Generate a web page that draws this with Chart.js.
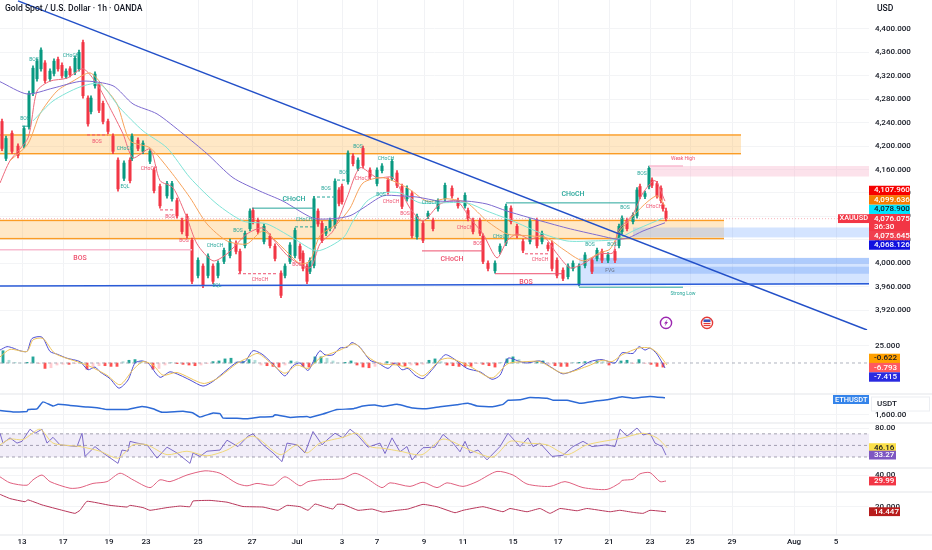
<!DOCTYPE html>
<html>
<head>
<meta charset="utf-8">
<title>Gold Spot / U.S. Dollar</title>
<script src="https://cdn.jsdelivr.net/npm/chart.js@4/dist/chart.umd.min.js"></script>
<style>
  html, body { margin: 0; padding: 0; background: #fff; }
  canvas { display: block; }
</style>
</head>
<body>
<canvas id="chart" width="932" height="550"></canvas>
<script>
// Time axis: x is one unit per session slot, ticks are not evenly spaced
const timeTickBars = [22, 63, 109, 146, 198, 252, 297, 342, 377, 424, 463, 513, 558, 609, 650, 690, 732, 794, 836];
const timeTickLabels = ['13', '17', '19', '23', '25', '27', 'Jul', '3', '7', '9', '11', '15', '17', '21', '23', '25', '29', 'Aug', '5'];
const priceTicks = [4400, 4360, 4320, 4280, 4240, 4200, 4160, 4120, 4080, 4040, 4000, 3960, 3920];

// Candles
const candleBars = [2, 6, 12, 18, 24, 29, 33, 37, 41, 45,
  50, 54, 58, 62, 66, 70, 75, 79, 83, 88,
  91, 95, 99, 103, 108, 113, 118, 124, 130, 132,
  138, 143, 150, 154, 160, 167, 172, 177, 182, 187,
  192, 198, 203, 208, 213, 218, 224, 230, 236, 240,
  245, 250, 253, 258, 264, 270, 275, 281, 285, 290,
  295, 300, 303, 307, 310, 314, 318, 322, 326, 330,
  335, 339, 342, 348, 353, 358, 363, 370, 377, 382,
  388, 392, 397, 402, 407, 412, 417, 423, 428, 433,
  438, 445, 452, 458, 465, 468, 473, 480, 483, 488,
  495, 500, 506, 511, 517, 523, 530, 537, 542, 548,
  552, 557, 563, 568, 573, 579, 585, 592, 597, 602,
  608, 615, 619, 622, 627, 633, 637, 640, 645, 649,
  652, 657, 661, 663, 666];
const candleHighs = [4246, 4217, 4226, 4204, 4234, 4294, 4337, 4349, 4368, 4346,
  4332, 4349, 4352, 4342, 4332, 4336, 4354, 4364, 4381, 4286,
  4286, 4327, 4308, 4277, 4246, 4221, 4180, 4175, 4180, 4221,
  4214, 4209, 4195, 4163, 4135, 4140, 4140, 4111, 4077, 4084,
  4043, 4009, 3999, 4016, 3999, 4004, 4026, 4041, 4038, 4024,
  4055, 4093, 4094, 4077, 4067, 4050, 4033, 3987, 3999, 4035,
  4060, 4033, 4021, 3999, 4009, 4114, 4093, 4072, 4063, 4077,
  4144, 4129, 4135, 4192, 4187, 4180, 4200, 4163, 4163, 4170,
  4146, 4178, 4158, 4135, 4132, 4123, 4084, 4072, 4089, 4077,
  4110, 4137, 4132, 4111, 4120, 4094, 4077, 4077, 4050, 4004,
  4004, 4033, 4101, 4098, 4067, 4041, 4076, 4077, 4055, 4035,
  4038, 4009, 3992, 3999, 4004, 3999, 4018, 4009, 4026, 4024,
  4018, 4024, 4067, 4081, 4077, 4086, 4129, 4135, 4123, 4166,
  4146, 4140, 4132, 4103, 4094];
const candleLows = [4192, 4175, 4187, 4180, 4197, 4229, 4286, 4311, 4328, 4308,
  4311, 4320, 4328, 4316, 4315, 4318, 4322, 4328, 4282, 4234,
  4255, 4299, 4257, 4238, 4221, 4187, 4123, 4141, 4137, 4175,
  4192, 4187, 4170, 4120, 4094, 4111, 4106, 4077, 4050, 4043,
  3965, 3975, 3958, 3975, 3965, 3975, 3999, 4009, 4016, 3983,
  4026, 4055, 4067, 4050, 4033, 4026, 4004, 3941, 3975, 3999,
  4009, 4004, 3987, 3965, 3982, 3992, 4063, 4035, 4047, 4055,
  4060, 4098, 4101, 4135, 4166, 4158, 4163, 4144, 4132, 4154,
  4118, 4141, 4129, 4093, 4106, 4043, 4041, 4035, 4076, 4055,
  4089, 4106, 4111, 4094, 4094, 4072, 4050, 4047, 3999, 3987,
  3983, 4016, 4030, 4067, 4043, 4018, 4033, 4026, 4033, 4021,
  3987, 3975, 3970, 3973, 3987, 3961, 3992, 3982, 4004, 4001,
  4001, 4001, 4026, 4050, 4055, 4067, 4077, 4110, 4110, 4127,
  4129, 4111, 4103, 4089, 4072];
const candleOpens = [4242, 4179, 4222, 4200, 4201, 4233, 4290, 4315, 4332, 4342,
  4315, 4324, 4348, 4338, 4319, 4332, 4326, 4332, 4377, 4282,
  4259, 4303, 4304, 4273, 4242, 4217, 4176, 4145, 4176, 4179,
  4210, 4191, 4174, 4159, 4131, 4115, 4110, 4107, 4073, 4080,
  4039, 3979, 3995, 3979, 3995, 3979, 4003, 4013, 4034, 4020,
  4030, 4059, 4090, 4073, 4037, 4046, 4029, 3983, 3979, 4003,
  4013, 4029, 4017, 3995, 3986, 3996, 4089, 4068, 4051, 4059,
  4064, 4125, 4131, 4139, 4183, 4162, 4196, 4159, 4136, 4158,
  4142, 4145, 4154, 4131, 4110, 4119, 4045, 4068, 4080, 4073,
  4093, 4110, 4128, 4107, 4098, 4090, 4073, 4073, 4046, 4000,
  3987, 4020, 4034, 4094, 4063, 4037, 4037, 4073, 4037, 4031,
  4034, 4005, 3988, 3977, 3991, 3965, 3996, 4005, 4008, 4020,
  4005, 4020, 4030, 4054, 4073, 4071, 4081, 4131, 4114, 4131,
  4142, 4136, 4128, 4099, 4089];
const candleCloses = [4196, 4213, 4191, 4184, 4230, 4290, 4333, 4345, 4364, 4312,
  4328, 4345, 4332, 4320, 4328, 4322, 4350, 4360, 4286, 4238,
  4282, 4323, 4261, 4242, 4225, 4191, 4127, 4171, 4141, 4217,
  4196, 4205, 4191, 4124, 4098, 4136, 4136, 4081, 4054, 4047,
  3969, 4005, 3962, 4012, 3969, 4000, 4022, 4037, 4020, 3987,
  4051, 4089, 4071, 4054, 4063, 4030, 4008, 3945, 3995, 4031,
  4056, 4008, 3991, 3969, 4005, 4110, 4067, 4039, 4059, 4073,
  4140, 4102, 4105, 4188, 4170, 4176, 4167, 4148, 4159, 4166,
  4122, 4174, 4133, 4097, 4128, 4047, 4080, 4039, 4085, 4059,
  4106, 4133, 4115, 4098, 4116, 4076, 4054, 4051, 4003, 3991,
  4000, 4029, 4097, 4071, 4047, 4022, 4072, 4030, 4051, 4025,
  3991, 3979, 3974, 3995, 4000, 3995, 4014, 3986, 4022, 4005,
  4014, 4005, 4063, 4077, 4059, 4082, 4125, 4114, 4119, 4162,
  4133, 4115, 4107, 4093, 4076];

// Moving averages
const emaRedBars = [0, 10, 28, 37, 50, 67, 83, 97, 110, 123, 133, 150, 160, 173, 187, 197, 213, 227, 247, 263, 277, 290, 310, 320, 333, 347, 360, 377, 393, 410, 423, 440, 457, 470, 483, 497, 507, 517, 530, 543, 557, 570, 583, 600, 613, 618, 633, 643, 655, 665];
const emaRedPrices = [4137, 4175, 4214, 4294, 4311, 4316, 4332, 4306, 4265, 4221, 4180, 4195, 4141, 4129, 4077, 4033, 4004, 4016, 4050, 4060, 4033, 4009, 3992, 4033, 4055, 4112, 4163, 4146, 4146, 4094, 4072, 4101, 4106, 4077, 4050, 4009, 4038, 4050, 4041, 4047, 4016, 3992, 3999, 4016, 4018, 4055, 4084, 4120, 4141, 4106];
const emaOrangeBars = [10, 28, 40, 57, 73, 90, 103, 117, 130, 150, 170, 190, 207, 227, 247, 263, 283, 300, 310, 320, 337, 350, 363, 383, 407, 427, 447, 467, 487, 507, 527, 547, 563, 583, 600, 610, 620, 643, 657, 665];
const emaOrangePrices = [4175, 4204, 4255, 4294, 4311, 4325, 4303, 4272, 4209, 4197, 4158, 4112, 4067, 4038, 4033, 4055, 4026, 3999, 4004, 4047, 4067, 4094, 4137, 4146, 4129, 4106, 4110, 4103, 4072, 4050, 4047, 4043, 4024, 4004, 4018, 4024, 4055, 4098, 4115, 4098];
const emaTealBars = [33, 53, 80, 100, 120, 143, 167, 190, 217, 243, 267, 293, 317, 343, 353, 367, 383, 400, 420, 440, 467, 487, 513, 540, 567, 593, 617, 633, 663];
const emaTealPrices = [4243, 4277, 4301, 4306, 4265, 4226, 4197, 4146, 4101, 4072, 4067, 4043, 4021, 4043, 4072, 4106, 4120, 4120, 4103, 4103, 4103, 4089, 4072, 4052, 4038, 4038, 4041, 4055, 4077];
const emaPurpleBars = [0, 27, 53, 83, 113, 133, 157, 183, 207, 233, 260, 283, 313, 333, 350, 363, 383, 400, 417, 440, 467, 487, 507, 533, 567, 600, 617, 628, 643, 665];
const emaPurplePrices = [4310, 4289, 4299, 4311, 4303, 4272, 4255, 4221, 4187, 4146, 4123, 4106, 4077, 4076, 4081, 4094, 4115, 4115, 4113, 4106, 4106, 4101, 4089, 4076, 4060, 4047, 4041, 4043, 4055, 4069];

// Drawn levels, each [first bar, last bar, price]
const tealLevels = [[252, 315, 4094], [506, 637, 4103], [579, 683, 3959], [22, 28, 4234]];
const tealDashLevels = [[295, 315, 4062], [317, 335, 4113], [337, 347, 4142]];
const redLevels = [[422, 483, 4021], [495, 563, 3982]];
const redDashLevels = [[238, 278, 3982], [160, 175, 4091], [87, 108, 4219], [525, 548, 4016]];
const pinkLevels = [[0, 192, 4023], [649, 683, 4166]];
const downTrendBars = [18, 867];
const downTrendPrices = [4448, 3886];
const floorBars = [0, 869];
const floorPrices = [3961, 3965];
const lastPrice = 4076.075;

// Zones, each [first bar, last bar, top price, bottom price]
const orangeZones = [[0, 741, 4219, 4187], [0, 724, 4073, 4042]];
const pinkZones = [[650, 869, 4166, 4148]];
const paleBlueZones = [[633, 869, 4061, 4044], [579, 869, 4009, 3963]];
const blueZones = [[590, 869, 4009, 3999], [590, 869, 3994, 3982]];

// Chart notes
const smallNoteTexts = ['BOS', 'BOS', 'CHoCH', 'BOS', 'EQL', 'CHoCH', 'CHoCH', 'BOS', 'BOS', 'CHoCH', 'BOS', 'CHoCH', 'BOS', 'CHoCH', 'EQL',
  'BOS', 'BOS', 'CHoCH', 'CHoCH', 'BOS', 'BOS', 'CHoCH', 'BOS', 'CHoCH', 'CHoCH', 'BOS', 'CHoCH', 'CHoCH', 'BOS', 'BOS', 'FVG', 'BOS', 'BOS', 'CHoCH', 'Weak High', 'Strong Low'];
const smallNoteBars = [25, 34, 71, 97, 125, 125, 149, 170, 184, 215, 238, 260, 297, 304, 217,
  326, 344, 363, 386, 358, 381, 391, 405, 430, 465, 478, 501, 540, 590, 612, 610, 642, 625, 654, 683, 683];
const smallNotePrices = [4246, 4347, 4354, 4207, 4130, 4195, 4161, 4079, 4038, 4030, 4055, 3971, 3997, 4074, 3961,
  4127, 4154, 4144, 4178, 4199, 4117, 4105, 4084, 4103, 4060, 4033, 4045, 4006, 4031, 4031, 3987, 4152, 4094, 4096, 4178, 3947];
const smallNoteIsRed = [0, 0, 0, 1, 0, 0, 1, 1, 1, 0, 0, 1, 1, 0, 0,
  0, 0, 1, 0, 0, 0, 1, 1, 0, 1, 1, 0, 1, 0, 0, 2, 0, 0, 1, 1, 0];
const bigNoteTexts = ['CHoCH', 'CHoCH', 'BOS', 'CHoCH', 'BOS'];
const bigNoteBars = [294, 573, 80, 452, 526];
const bigNotePrices = [4110, 4118, 4009, 4007, 3968];
const bigNoteIsRed = [0, 0, 1, 1, 1];
const eventBars = [666, 707];
const eventPrice = 3898;

// MACD
const macdBars = [0, 7, 13, 20, 27, 32, 42, 50, 57, 67, 80, 88, 95, 100, 110, 119, 128, 135, 142, 148, 160, 170, 180, 190, 203, 213, 227, 237, 245, 253, 263, 277, 285, 293, 300, 308, 315, 320,
  325, 333, 340, 347, 352, 360, 370, 378, 388, 395, 402, 408, 415, 423, 432, 445, 453, 467, 480, 492, 500, 508, 520, 527, 540, 553, 563, 577, 590, 602, 615, 622, 633, 639, 645, 650, 657, 665];
const macdValues = [19, 24, 22, 18, 17, 36, 38, 17, 13, 7, 2, -10, -6, -13, -23, -37, -25, 0, 3, 0, -21, -13, -18, -25, -34, -27, -10, 1, 2, 18, 12, -8, -19, -4, 0, -11, 7, 18,
  12, 12, 22, 23, 30, 23, 4, 0, -8, 0, -10, -8, -18, -23, -10, 12, 7, -8, -13, -24, -18, 7, 2, 0, 3, -8, -16, -9, 2, 5, 0, 15, 14, 24, 19, 22, 13, -7.4];
const macdSignalBars = [0, 10, 27, 33, 43, 55, 80, 90, 107, 120, 133, 143, 153, 163, 177, 203, 217, 237, 247, 258, 273, 285, 297, 308, 320,
  340, 355, 368, 380, 397, 410, 423, 440, 450, 470, 492, 508, 527, 540, 563, 587, 602, 612, 622, 639, 650, 658, 667];
const macdSignalValues = [9, 20, 17, 34, 36, 14, 0.5, -5, -18, -32, -10, 2, -3, -18, -14, -30, -23, -0.5, 7, 14, -3, -15, -3, -8, 7,
  19, 28, 9, -1, -3, -8, -19, 4, 7, -5, -22, -1, 2, 2, -15, -5, 4, 2, 12, 22, 22, 14, -3];
const macdHistValues = [18, 4, 1, 0, 1, 9, -1, -8, -7, -3, -2, -2, -1, 1, -9, -6, -4, -4, -5, -5, 2, 4, 5, 3, -1, -9, -8, -3, 1, -1, -2, -3, -4, -3, -1, 2, 3, 6, 7, 2, 2, 5, 4, -3, -4, -5, -6, -3, 3, 2, -5, -6, 9,
  9, 7, 3, 0, 1, 3, -3, -6, -7, -5, -1, 2, -2, -3, -4, -3, -3, -2, 4, 6, 2, -3, -4, -5, -5, -5, -1, -2, -4, -6, 1, 6, 9, 5, 2, 1, 2, 3, -2, -4, -5, -5, 1, 1, 2, 1, 3, 2, -3, 1, 3, 4, -1, 5, -1, -2, -5, -6];

// ETHUSDT compare line
const ethBars = [0, 13, 27, 28, 37, 43, 53, 58, 70, 83, 97, 107, 113, 127, 142, 153, 162, 183, 193, 200, 213, 220, 223, 237, 247, 260, 273, 275, 290, 307,
  310, 323, 337, 353, 363, 375, 383, 397, 413, 425, 440, 457, 468, 477, 492, 503, 508, 520, 530, 547, 553, 567, 580, 597, 607, 622, 633, 650, 665];
const ethValues = [2000, 1870, 1900, 2100, 2170, 2840, 2440, 2600, 2500, 2370, 2270, 2100, 2100, 2100, 2400, 2170, 1840, 1930, 1770, 1370, 1770, 1700, 1270, 1270, 1200, 1370, 1430, 1600, 1340, 1430,
  1340, 1670, 2100, 2170, 2440, 2540, 2400, 2600, 2240, 2170, 2370, 2570, 2700, 2440, 2370, 2600, 3000, 3040, 3270, 3200, 3000, 3000, 2700, 2940, 3040, 3340, 3200, 3370, 3240];

// RSI
const rsiBars = [0, 3, 10, 17, 22, 30, 35, 42, 47, 53, 60, 77, 82, 85, 95, 103, 118, 122, 128, 130, 137, 147, 157, 167, 177, 190, 193, 200, 207, 220, 227, 238, 248, 253, 263, 273, 282, 287, 297, 305, 313,
  322, 328, 335, 343, 350, 358, 368, 380, 385, 392, 400, 407, 412, 418, 423, 435, 443, 453, 460, 465, 470, 478, 487, 500, 508, 520, 528, 533, 540, 552, 563, 573, 583, 592, 607, 615, 620, 627, 637, 643, 650, 655, 662, 666];
const rsiValues = [71, 54, 63, 54, 57, 78, 71, 78, 54, 64, 51, 48, 71, 31, 48, 37, 19, 42, 40, 57, 54, 51, 28, 47, 37, 19, 37, 31, 40, 42, 59, 48, 66, 70, 51, 37, 22, 54, 51, 37, 74,
  51, 61, 71, 63, 78, 67, 47, 54, 36, 63, 39, 48, 25, 37, 46, 47, 69, 54, 39, 57, 37, 42, 25, 48, 71, 48, 63, 48, 54, 31, 33, 48, 57, 48, 51, 48, 78, 66, 80, 68, 71, 54, 48, 33.3];
const rsiSignalBars = [0, 10, 23, 40, 53, 80, 100, 118, 133, 147, 167, 187, 207, 227, 253, 280, 297, 307, 320,
  343, 357, 370, 383, 400, 422, 443, 470, 493, 510, 527, 547, 567, 587, 623, 643, 657, 667];
const rsiSignalValues = [51, 61, 60, 78, 54, 48, 40, 28, 51, 51, 34, 40, 32, 42, 66, 34, 51, 37, 54,
  64, 71, 48, 45, 40, 34, 61, 42, 30, 57, 54, 51, 34, 51, 63, 71, 63, 46.2];
const rsiLevels = [70, 50, 30];

// The two lower oscillators
const upperOscBars = [0, 10, 27, 33, 42, 50, 70, 80, 93, 107, 120, 133, 150, 160, 170, 187, 205, 220, 237, 247, 257, 273, 285, 300,
  308, 320, 343, 355, 367, 382, 390, 410, 423, 437, 447, 463, 477, 497, 513, 527, 550, 565, 583, 607, 620, 622, 633, 640, 650, 660, 666];
const upperOscValues = [37, 27, 23, 32, 40, 29, 18, 19, 26, 29, 43, 32, 19, 32, 29, 40, 47, 43, 26, 22, 26, 23, 37, 22,
  29, 32, 34, 43, 34, 19, 27, 21, 28, 19, 27, 21, 29, 46, 40, 25, 21, 29, 19, 16, 27, 31, 33, 42, 44, 29, 30];
const lowerOscBars = [0, 10, 25, 28, 42, 63, 75, 80, 87, 110, 127, 130, 143, 150, 167, 180, 190, 193, 210, 227, 243, 263, 278, 287, 300, 308, 315, 320,
  333, 337, 343, 358, 372, 383, 397, 408, 423, 437, 455, 463, 483, 503, 510, 527, 540, 550, 560, 577, 587, 610, 620, 633, 643, 650, 666];
const lowerOscValues = [33.7, 29, 25.5, 27.6, 22, 15.8, 12.6, 16, 26, 21.5, 19.6, 21.5, 19, 16, 19, 20.7, 20, 26.3, 27, 25, 20.2, 19.6, 16, 21.5, 20, 16, 23, 21.5,
  17.4, 22.6, 22.6, 16, 17.4, 14, 16, 17.4, 22.6, 20, 13.3, 16, 20, 14.4, 18, 14.4, 18, 12.6, 18, 15.5, 18, 14.4, 16, 13.7, 12.6, 16, 14.4];

// Value tags on the right edge, top to bottom
const priceTagTexts = ['4,107.960', '4,099.636', '4,078.900', '4,076.075', '4,075.645', '4,068.126'];
const priceTagValues = [4107.96, 4099.636, 4078.9, 4076.075, 4075.645, 4068.126];
const macdTagTexts = ['-0.622', '-6.793', '-7.415'];
const macdTagValues = [-0.622, -6.793, -7.415];
const rsiTagTexts = ['46.16', '33.27'];
const rsiTagValues = [46.16, 33.27];

const UP = '#089981';
const DOWN = '#f23645';
const TEAL = '#26a69a';
const RED = '#ee4f6d';
const FONT_FAMILY = 'Roboto, "Liberation Sans", sans-serif';
const AXIS_FONT = '500 8px ' + FONT_FAMILY;
const PLOT_RIGHT = 869;

const zip = (bars, values) => bars.map((b, i) => ({ x: b, y: values[i] }));

function lineSet(bars, values, yAxisID, color, width, extra) {
  return Object.assign({
    type: 'line', data: zip(bars, values), yAxisID, borderColor: color, borderWidth: width,
    pointRadius: 0, tension: 0.25, order: 3, fill: false
  }, extra || {});
}

function levelSets(levels, color, width, dash) {
  return levels.map(l => lineSet([l[0], l[1]], [l[2], l[2]], 'price', color, width, { tension: 0, borderDash: dash || [], order: 2 }));
}

// Scales push the chart area in to make room for their edge labels, the panes need it flush
function noPadding(scale) {
  scale.paddingLeft = scale.paddingRight = scale.paddingTop = scale.paddingBottom = 0;
}

const wicks = candleBars.map((b, i) => ({ x: b, y: [candleLows[i], candleHighs[i]] }));
const bodies = candleBars.map((b, i) => ({ x: b, y: [candleOpens[i], candleCloses[i]] }));
const candleColors = candleOpens.map((o, i) => candleCloses[i] >= o ? UP : DOWN);

const histData = macdHistValues.map((v, i) => ({ x: 3 + i * 6, y: v }));
const histColors = macdHistValues.map((v, i) => {
  const prev = i ? macdHistValues[i - 1] : 0;
  const strong = Math.abs(v) >= Math.abs(prev);
  if (v >= 0) return strong ? '#26a69a' : '#b2dfdb';
  return strong ? '#ff5252' : '#ffcdd2';
});

const datasets = [
  { type: 'bar', data: wicks, yAxisID: 'price', backgroundColor: candleColors, barThickness: 1, grouped: false, order: 6 },
  { type: 'bar', data: bodies, yAxisID: 'price', backgroundColor: candleColors, barThickness: 2.4, grouped: false, order: 5 },
  lineSet(emaPurpleBars, emaPurplePrices, 'price', '#7e6bd0', 1),
  lineSet(emaTealBars, emaTealPrices, 'price', '#7fe3d6', 1),
  lineSet(emaOrangeBars, emaOrangePrices, 'price', '#f7a35c', 1),
  lineSet(emaRedBars, emaRedPrices, 'price', '#ee6a7c', 1),
  ...levelSets(tealLevels, TEAL, 1),
  ...levelSets(tealDashLevels, TEAL, 1, [3, 2]),
  ...levelSets(redLevels, RED, 1),
  ...levelSets(redDashLevels, RED, 1, [3, 2]),
  ...levelSets(pinkLevels, '#f8bbd0', 1.6),
  lineSet(floorBars, floorPrices, 'price', '#2a5bd7', 1.6, { tension: 0, order: 1 }),
  lineSet(downTrendBars, downTrendPrices, 'price', '#2350c8', 1.6, { tension: 0, order: 1 }),
  lineSet([0, PLOT_RIGHT], [lastPrice, lastPrice], 'price', '#f5a3ad', 0.8, { tension: 0, borderDash: [1, 2], order: 4 }),

  { type: 'bar', data: histData, yAxisID: 'macd', backgroundColor: histColors, barThickness: 2.2, grouped: false, order: 6 },
  lineSet([0, PLOT_RIGHT], [0, 0], 'macd', '#9aa0ad', 0.8, { tension: 0, borderDash: [3, 3], order: 5 }),
  lineSet(macdSignalBars, macdSignalValues, 'macd', '#eec35a', 1),
  lineSet(macdBars, macdValues, 'macd', '#4f4fd4', 1),

  lineSet(ethBars, ethValues, 'eth', '#2d6ad6', 1.5, { tension: 0.1 }),

  lineSet([0, PLOT_RIGHT], [rsiLevels[0], rsiLevels[0]], 'rsi', '#8f8f9c', 0.8, {
    tension: 0, borderDash: [3, 3], order: 5, fill: { target: { value: rsiLevels[2] } }, backgroundColor: 'rgba(126,87,194,0.11)'
  }),
  lineSet([0, PLOT_RIGHT], [rsiLevels[1], rsiLevels[1]], 'rsi', '#8f8f9c', 0.8, { tension: 0, borderDash: [3, 3], order: 5 }),
  lineSet([0, PLOT_RIGHT], [rsiLevels[2], rsiLevels[2]], 'rsi', '#8f8f9c', 0.8, { tension: 0, borderDash: [3, 3], order: 5 }),
  lineSet(rsiSignalBars, rsiSignalValues, 'rsi', '#f0d879', 1),
  lineSet(rsiBars, rsiValues, 'rsi', '#6f5cc4', 0.9, { tension: 0 }),

  lineSet(upperOscBars, upperOscValues, 'upperOsc', '#e0607f', 1),
  lineSet(lowerOscBars, lowerOscValues, 'lowerOsc', '#b8365a', 1, { tension: 0.1 })
];

function paneScale(weight, min, max, ticks, format) {
  return {
    type: 'linear', position: 'right', stack: 'panes', stackWeight: weight, min, max,
    afterBuildTicks(scale) { scale.ticks = ticks.map(v => ({ value: v })); },
    afterFit(scale) { scale.width = 932 - PLOT_RIGHT; noPadding(scale); },
    border: { display: false },
    grid: { color: '#f3f4f6', lineWidth: 1, drawTicks: false },
    ticks: { padding: 6, color: '#131722', font: { size: 8, weight: '500', family: FONT_FAMILY }, callback: format }
  };
}

const fixed = digits => v => v.toLocaleString('en-US', { minimumFractionDigits: digits, maximumFractionDigits: digits });

function fillZones(ctx, x, y, zones, color, edge) {
  zones.forEach(z => {
    const left = x.getPixelForValue(z[0]);
    const right = x.getPixelForValue(z[1]);
    const top = y.getPixelForValue(z[2]);
    const bottom = y.getPixelForValue(z[3]);
    ctx.fillStyle = color;
    ctx.fillRect(left, top, right - left, bottom - top);
    if (edge) {
      ctx.fillStyle = edge;
      ctx.fillRect(left, top - 0.7, right - left, 1.4);
      ctx.fillRect(left, bottom - 0.7, right - left, 1.4);
    }
  });
}

function notes(ctx, x, y, texts, bars, prices, flags, font) {
  ctx.font = font;
  ctx.textAlign = 'center';
  ctx.textBaseline = 'middle';
  texts.forEach((t, i) => {
    ctx.fillStyle = flags[i] === 2 ? '#6d7585' : flags[i] ? RED : TEAL;
    ctx.fillText(t, x.getPixelForValue(bars[i]), y.getPixelForValue(prices[i]));
  });
}

function tag(ctx, text, centre, width, height, bg, fg) {
  ctx.fillStyle = bg;
  ctx.fillRect(PLOT_RIGHT, centre - height / 2, width, height);
  ctx.fillStyle = fg;
  ctx.font = AXIS_FONT;
  ctx.textAlign = 'left';
  ctx.textBaseline = 'middle';
  ctx.fillText(text, PLOT_RIGHT + 5, centre);
}

function priceTags(ctx, y) {
  const main = y.getPixelForValue(priceTagValues[3]);
  const bgs = ['#f60000', '#f57c00', '#00e5ff', DOWN, '#f0404f', '#1010e0'];
  const fgs = ['#fff', '#fff', '#131722', '#fff', '#fff', '#fff'];
  const step = 9.4;
  ctx.fillStyle = DOWN;
  ctx.fillRect(PLOT_RIGHT, main - 4.7, 41, 17.4);
  tag(ctx, priceTagTexts[3], main, 41, 9.4, bgs[3], fgs[3]);
  ctx.fillStyle = '#fff';
  ctx.fillText('36:30', PLOT_RIGHT + 5, main + 8);
  [2, 1, 0].forEach((i, k) => tag(ctx, priceTagTexts[i], main - step * (k + 1), 41, step, bgs[i], fgs[i]));
  [4, 5].forEach((i, k) => tag(ctx, priceTagTexts[i], main + 17 + step * k, 41, step, bgs[i], fgs[i]));
}

// Zones go under the candles, notes and right edge tags go over everything
const overlay = {
  id: 'overlay',
  beforeDatasetsDraw(chart) {
    const { ctx, scales } = chart;
    ctx.save();
    fillZones(ctx, scales.x, scales.price, orangeZones, 'rgba(255,183,77,0.32)', '#fb9c24');
    fillZones(ctx, scales.x, scales.price, pinkZones, 'rgba(248,187,208,0.42)');
    fillZones(ctx, scales.x, scales.price, paleBlueZones, 'rgba(130,177,255,0.34)');
    fillZones(ctx, scales.x, scales.price, blueZones, 'rgba(66,133,244,0.26)');
    ctx.restore();
  },
  afterDraw(chart) {
    const { ctx, scales } = chart;
    const { x, price, macd, eth, rsi, upperOsc, lowerOsc } = scales;
    ctx.save();

    // pane separators
    ctx.fillStyle = '#e3e5ea';
    [macd, eth, rsi, upperOsc, lowerOsc].forEach(s => ctx.fillRect(0, s.bottom - 0.5, 932, 1));

    notes(ctx, x, price, smallNoteTexts, smallNoteBars, smallNotePrices, smallNoteIsRed, '5px ' + FONT_FAMILY);
    notes(ctx, x, price, bigNoteTexts, bigNoteBars, bigNotePrices, bigNoteIsRed, '500 7px ' + FONT_FAMILY);

    // event badges
    const badgeY = price.getPixelForValue(eventPrice);
    const bolt = x.getPixelForValue(eventBars[0]);
    ctx.lineWidth = 1.4;
    ctx.strokeStyle = '#9c27b0';
    ctx.fillStyle = '#fff';
    ctx.beginPath(); ctx.arc(bolt, badgeY, 5.6, 0, Math.PI * 2); ctx.fill(); ctx.stroke();
    ctx.fillStyle = '#9c27b0';
    ctx.beginPath();
    ctx.moveTo(bolt + 1.6, badgeY - 3.6);
    ctx.lineTo(bolt - 2, badgeY + 0.6);
    ctx.lineTo(bolt - 0.2, badgeY + 0.6);
    ctx.lineTo(bolt - 1.4, badgeY + 3.6);
    ctx.lineTo(bolt + 2, badgeY - 0.8);
    ctx.lineTo(bolt + 0.2, badgeY - 0.8);
    ctx.closePath();
    ctx.fill();
    const flag = x.getPixelForValue(eventBars[1]);
    ctx.strokeStyle = '#e53935';
    ctx.fillStyle = '#fff';
    ctx.beginPath(); ctx.arc(flag, badgeY, 5.6, 0, Math.PI * 2); ctx.fill(); ctx.stroke();
    ctx.fillStyle = '#3f51b5';
    ctx.fillRect(flag - 3.5, badgeY - 3.5, 7, 2.6);
    ctx.fillStyle = '#e53935';
    ctx.fillRect(flag - 3.5, badgeY, 7, 1.2);
    ctx.fillRect(flag - 3.5, badgeY + 2, 7, 1.2);

    // title
    ctx.fillStyle = '#131722';
    ctx.font = '500 8.6px ' + FONT_FAMILY;
    ctx.textAlign = 'left';
    ctx.textBaseline = 'middle';
    ctx.fillText('Gold Spot / U.S. Dollar · 1h · OANDA', 5, 9);
    ctx.fillText('USD', 877, 9);

    // symbol tags
    const lastY = price.getPixelForValue(lastPrice);
    ctx.font = '500 7.4px ' + FONT_FAMILY;
    ctx.fillStyle = DOWN;
    ctx.fillRect(838, lastY - 4.4, 31, 8.8);
    ctx.fillStyle = '#fff';
    ctx.fillText('XAUUSD', 839.5, lastY);
    ctx.fillStyle = '#3584ea';
    ctx.fillRect(833, 395, 36, 9);
    ctx.fillStyle = '#fff';
    ctx.fillText('ETHUSDT', 835, 399.7);
    ctx.fillStyle = '#fff';
    ctx.strokeStyle = '#eceef2';
    ctx.lineWidth = 1;
    ctx.fillRect(871.5, 397, 58, 14);
    ctx.strokeRect(871.5, 397, 58, 14);
    ctx.fillStyle = '#131722';
    ctx.font = AXIS_FONT;
    ctx.fillText('USDT', 877, 404.2);

    priceTags(ctx, price);
    const macdCentre = macd.getPixelForValue(macdTagValues[1]);
    tag(ctx, macdTagTexts[0], macdCentre - 9.2, 31, 9.4, '#ffa000', '#131722');
    tag(ctx, macdTagTexts[1], macdCentre, 31, 9.4, '#ff5a5f', '#fff');
    tag(ctx, macdTagTexts[2], macdCentre + 9.4, 31, 9.4, '#2a2ae0', '#fff');
    tag(ctx, rsiTagTexts[0], rsi.getPixelForValue(rsiTagValues[0]), 27, 8.8, '#fbe04a', '#131722');
    tag(ctx, rsiTagTexts[1], rsi.getPixelForValue(rsiTagValues[1]), 27, 8.8, '#7e57c2', '#fff');
    tag(ctx, '29.99', upperOsc.getPixelForValue(29.99), 27, 8.8, DOWN, '#fff');
    tag(ctx, '14.447', lowerOsc.getPixelForValue(14.447), 31, 8.8, '#b71c1c', '#fff');
    ctx.restore();
  }
};

new Chart(document.getElementById('chart'), {
  data: { datasets },
  plugins: [overlay],
  options: {
    responsive: false,
    animation: false,
    layout: { padding: 0 },
    plugins: { legend: { display: false }, tooltip: { enabled: false }, title: { display: false } },
    scales: {
      x: {
        type: 'linear', min: 0, max: PLOT_RIGHT, position: 'bottom', offset: false,
        afterBuildTicks(scale) { scale.ticks = timeTickBars.map(v => ({ value: v })); },
        afterFit(scale) { scale.height = 15; noPadding(scale); },
        border: { display: false },
        grid: { color: '#f1f2f5', drawTicks: false, offset: false },
        ticks: {
          autoSkip: false, maxRotation: 0, padding: 2, color: '#131722',
          font: { size: 8, weight: '500', family: FONT_FAMILY },
          callback: v => timeTickLabels[timeTickBars.indexOf(v)]
        }
      },
      price: paneScale(330, 3885.9, 4449.5, priceTicks, fixed(3)),
      macd: paneScale(64, -45.6, 48.5, [25], fixed(3)),
      eth: paneScale(29, 800, 3600, [1600], fixed(2)),
      rsi: paneScale(45, 11, 88.7, [80], fixed(2)),
      upperOsc: paneScale(24, 11.7, 51.7, [40], fixed(2)),
      lowerOsc: paneScale(43, -11.4, 36.3, [20], fixed(3))
    }
  }
});
</script>
</body>
</html>
